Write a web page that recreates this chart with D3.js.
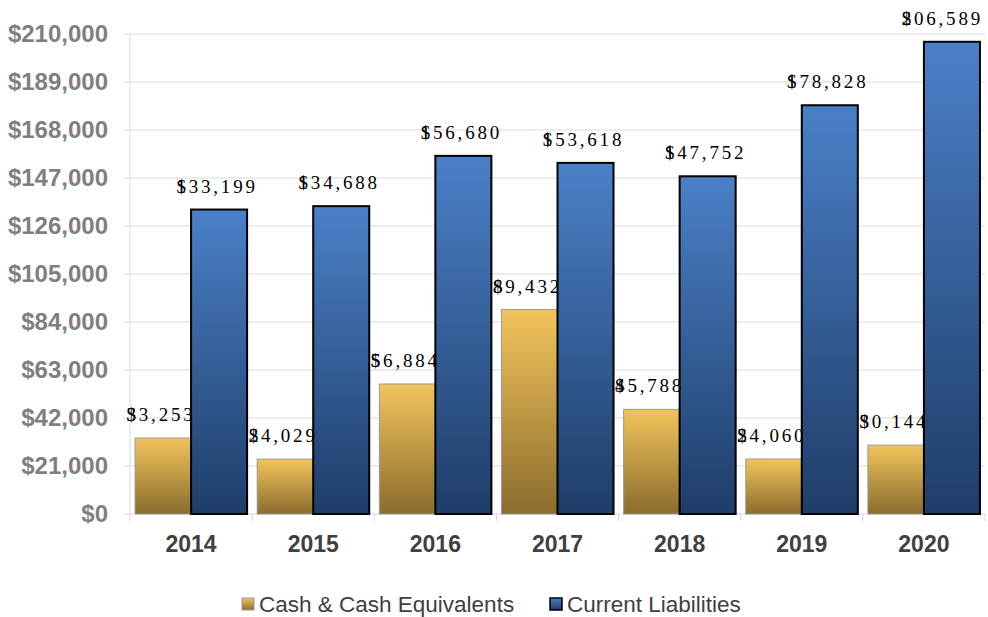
<!DOCTYPE html>
<html>
<head>
<meta charset="utf-8">
<script src="https://cdn.jsdelivr.net/npm/d3@7"></script>
<style>
  body { margin: 0; background: #fff; }
  svg { display: block; }
</style>
</head>
<body>
<div id="chart"></div>
<script>
var years = ["2014", "2015", "2016", "2017", "2018", "2019", "2020"]
var cashValues = [33253, 24029, 56884, 89432, 45788, 24060, 30144]
var liabValues = [133199, 134688, 156680, 153618, 147752, 178828, 206589]
var seriesNames = ["Cash & Cash Equivalents", "Current Liabilities"]
var yTicks = [0, 21000, 42000, 63000, 84000, 105000, 126000, 147000, 168000, 189000, 210000]

var width = 988
var height = 617
var pLeft = 130, pRight = 985, pTop = 34, pBottom = 514

var svg = d3.select("#chart").append("svg")
	.attr("width", width)
	.attr("height", height)

var defs = svg.append("defs")
function grad(id, c1, c2) {
	var g = defs.append("linearGradient").attr("id", id)
		.attr("x1", 0).attr("y1", 0).attr("x2", 0).attr("y2", 1)
	g.append("stop").attr("offset", "0%").attr("stop-color", c1)
	g.append("stop").attr("offset", "100%").attr("stop-color", c2)
}
grad("gGold", "#f3c45c", "#8a6c2d")
grad("gBlue", "#4a80c8", "#1f3d68")

var x = d3.scaleBand().domain(years).range([pLeft, pRight])
var xs = d3.scaleBand().domain([0, 1]).range([0, x.bandwidth()]).paddingOuter(0.09).paddingInner(0)
var y = d3.scaleLinear().domain([0, 210000]).range([pBottom, pTop])

// gridlines
svg.append("g").selectAll("line").data(yTicks).join("line")
	.attr("x1", pLeft - 7).attr("x2", pRight)
	.attr("y1", function (d) { return y(d) }).attr("y2", function (d) { return y(d) })
	.attr("stroke", "#d9d9d9").attr("stroke-width", 1)

// y axis line + category ticks
svg.append("line").attr("x1", pLeft).attr("x2", pLeft).attr("y1", pTop).attr("y2", pBottom + 7)
	.attr("stroke", "#d9d9d9")
svg.append("g").selectAll("line").data(years).join("line")
	.attr("x1", function (d) { return x(d) + x.step() })
	.attr("x2", function (d) { return x(d) + x.step() })
	.attr("y1", pBottom).attr("y2", pBottom + 7)
	.attr("stroke", "#d9d9d9")

// y labels
svg.append("g").selectAll("text").data(yTicks).join("text")
	.attr("x", 108).attr("y", function (d) { return y(d) + 8 })
	.attr("text-anchor", "end")
	.style("font-family", "Liberation Sans, Arial, sans-serif")
	.style("font-weight", "bold").style("font-size", "24px")
	.attr("fill", "#7f7f7f")
	.text(function (d) { return "$" + d3.format(",")(d) })

// x labels
svg.append("g").selectAll("text").data(years).join("text")
	.attr("x", function (d) { return x(d) + x.bandwidth() / 2 })
	.attr("y", 552)
	.attr("text-anchor", "middle")
	.style("font-family", "Liberation Sans, Arial, sans-serif")
	.style("font-weight", "bold").style("font-size", "23px")
	.attr("fill", "#404040")
	.text(function (d) { return d })

// bars
var series = [
	{ vals: cashValues, fill: "url(#gGold)", stroke: "#9a9a9a", sw: 1 },
	{ vals: liabValues, fill: "url(#gBlue)", stroke: "#000", sw: 2 }
]
series.forEach(function (s, si) {
	svg.append("g").selectAll("rect").data(s.vals).join("rect")
		.attr("x", function (d, i) { return x(years[i]) + xs(si) })
		.attr("width", xs.bandwidth())
		.attr("y", function (d) { return y(d) })
		.attr("height", function (d) { return pBottom - y(d) })
		.attr("fill", s.fill)
		.attr("stroke", s.stroke)
		.attr("stroke-width", s.sw)
})

// value labels: "$" then spaced digits pulled back over it
series.forEach(function (s, si) {
	s.vals.forEach(function (v, i) {
		var cx = x(years[i]) + xs(si) + xs.bandwidth() / 2 - 2
		var ty = y(v) - 17
		var t = svg.append("text")
			.attr("y", ty)
			.style("font-family", "Liberation Serif, Times New Roman, serif")
			.style("font-size", "19px")
			.attr("fill", "#000")
		t.append("tspan").text("$")
		t.append("tspan").attr("dx", -9.5)
			.style("letter-spacing", "2.8px")
			.text(d3.format(",")(v))
		var w = t.node().getComputedTextLength() - 9.5
		var sx = Math.min(cx - w / 2, 983 - w)
		t.attr("x", sx)
	})
})

// legend
var legend = svg.append("g")
var lx = [242, 550]
seriesNames.forEach(function (n, i) {
	legend.append("rect")
		.attr("x", lx[i]).attr("y", 598).attr("width", 12).attr("height", 12)
		.attr("fill", series[i].fill)
		.attr("stroke", i == 1 ? "#000" : "#9a9a9a").attr("stroke-width", i == 1 ? 1.5 : 1)
	legend.append("text")
		.attr("x", lx[i] + 17).attr("y", 612)
		.style("font-family", "Liberation Sans, Arial, sans-serif")
		.style("font-size", "22.5px")
		.attr("fill", "#404040")
		.text(n)
})
</script>
</body>
</html>
